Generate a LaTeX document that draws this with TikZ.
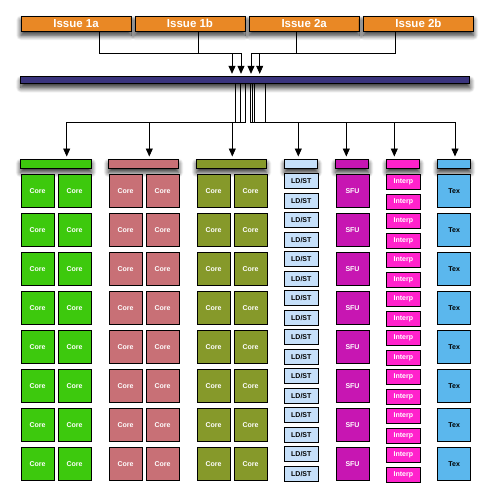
\documentclass[tikz,border=0pt]{standalone}
\usepackage{fontspec}
\setmainfont{Liberation Sans}
\usetikzlibrary{arrows.meta}
\usetikzlibrary{shadows.blur}

\definecolor{issueorange}{RGB}{233,136,37}
\definecolor{busblue}{RGB}{58,52,125}
\definecolor{coregreen}{RGB}{61,201,13}
\definecolor{corerose}{RGB}{200,112,118}
\definecolor{coreolive}{RGB}{134,153,42}
\definecolor{ldstblue}{RGB}{198,224,250}
\definecolor{sfumagenta}{RGB}{199,22,178}
\definecolor{interppink}{RGB}{255,34,204}
\definecolor{texblue}{RGB}{91,183,237}

\begin{document}
\begin{tikzpicture}[x=1pt, y=-1pt,
    box/.style={draw=black, line width=1pt, inner sep=0pt, text=white, font=\fontsize{7}{8}\selectfont\bfseries},
    shade/.style={blur shadow={shadow xshift=0pt, shadow yshift=-4pt, shadow blur radius=5pt, shadow blur steps=10, shadow opacity=85}},
    issue/.style={box, shade, minimum width=110pt, minimum height=15pt, fill=issueorange, font=\fontsize{11.5}{12}\selectfont\bfseries},
    hdr/.style={box, shade, minimum height=9pt},
    core/.style={box, minimum width=33pt, minimum height=33pt},
    small/.style={box, minimum width=33.5pt, minimum height=14.5pt},
    wire/.style={line width=0.8pt},
    arr/.style={wire, -{Triangle[width=7pt,length=8pt]}, shorten >=2.5pt}]

  \useasboundingbox (0,0) rectangle (494,493);

  % Issue units and the dispatch bar
  \node[issue] (i1a) at (76,23.8) {Issue 1a};
  \node[issue] (i1b) at (190,23.8) {Issue 1b};
  \node[issue] (i2a) at (304.2,23.8) {Issue 2a};
  \node[issue] (i2b) at (418.5,23.8) {Issue 2b};

  \node[box, shade, fill=busblue, minimum width=449pt, minimum height=7pt] (bus) at (245.4,80.3) {};

  \coordinate (topline) at (0,53);
  \coordinate (lowline) at (0,122);

  % issue -> bar
  \draw[arr] ([xshift=23.5pt]i1a.south) -- ([xshift=23.5pt]i1a.south |- topline) -| ([xshift=-13.4pt]bus.north);
  \draw[arr] ([xshift=8.7pt]i1b.south) -- ([xshift=8.7pt]i1b.south |- topline) -| ([xshift=-4.4pt]bus.north);
  \draw[arr] ([xshift=-7.9pt]i2a.south) -- ([xshift=-7.9pt]i2a.south |- topline) -| ([xshift=14.3pt]bus.north);
  \draw[arr] ([xshift=-22.8pt]i2b.south) -- ([xshift=-22.8pt]i2b.south |- topline) -| ([xshift=5.6pt]bus.north);

  % unit headers
  \node[hdr, minimum width=71pt, fill=coregreen] (hg) at (56,164) {};
  \node[hdr, minimum width=70pt, fill=corerose] (hr) at (143.5,164) {};
  \node[hdr, minimum width=70pt, fill=coreolive] (ho) at (231.5,164) {};
  \node[hdr, minimum width=33pt, fill=ldstblue] (hl) at (301,164) {};
  \node[hdr, minimum width=33pt, fill=sfumagenta] (hs) at (352,164) {};
  \node[hdr, minimum width=33pt, fill=interppink] (hi) at (403,164) {};
  \node[hdr, minimum width=33pt, fill=texblue] (ht) at (454,164) {};

  % bar -> units
  \draw[arr] ([xshift=0.3pt]bus.south) -- ([xshift=0.3pt]bus.south |- lowline) -| ([xshift=10.7pt]hg.north);
  \draw[arr] ([xshift=-4.7pt]bus.south) -- ([xshift=-4.7pt]bus.south |- lowline) -| ([xshift=5.8pt]hr.north);
  \draw[arr] ([xshift=-9.7pt]bus.south) -- ([xshift=-9.7pt]bus.south |- lowline) -| ([xshift=0.8pt]ho.north);
  \draw[arr] ([xshift=19.9pt]bus.south) -- ([xshift=19.9pt]bus.south |- lowline) -| ([xshift=-2.7pt]hl.north);
  \draw[arr] ([xshift=8.9pt]bus.south) -- ([xshift=8.9pt]bus.south |- lowline) -| ([xshift=-5.7pt]hs.north);
  \draw[arr] ([xshift=6.6pt]bus.south) -- ([xshift=6.6pt]bus.south |- lowline) -| ([xshift=-8.7pt]hi.north);
  \draw[arr] ([xshift=4.6pt]bus.south) -- ([xshift=4.6pt]bus.south |- lowline) -| ([xshift=1pt]ht.north);

  % eight rows of execution units
  \foreach \r in {1,...,8}
  {
    \pgfmathsetmacro{\yc}{191+39*(\r-1)}
    \node[core, fill=coregreen] (ga\r) at (37.5,\yc) {Core};
    \node[core, fill=coregreen] (gb\r) at (74.5,\yc) {Core};
    \node[core, fill=corerose] (ra\r) at (125.5,\yc) {Core};
    \node[core, fill=corerose] (rb\r) at (162.5,\yc) {Core};
    \node[core, fill=coreolive] (oa\r) at (213.5,\yc) {Core};
    \node[core, fill=coreolive] (ob\r) at (250.5,\yc) {Core};
    \node[small, fill=ldstblue, text=black] (la\r) at (301.3,\yc-10) {LD/ST};
    \node[small, fill=ldstblue, text=black] (lb\r) at (301.3,\yc+10) {LD/ST};
    \node[core, fill=sfumagenta] (s\r) at (352.5,\yc) {SFU};
    \node[small, fill=interppink] (pa\r) at (403.3,\yc-9) {Interp};
    \node[small, fill=interppink] (pb\r) at (403.3,\yc+11) {Interp};
    \node[core, fill=texblue, text=black] (t\r) at (454.2,\yc) {Tex};
  }
\end{tikzpicture}
\end{document}
